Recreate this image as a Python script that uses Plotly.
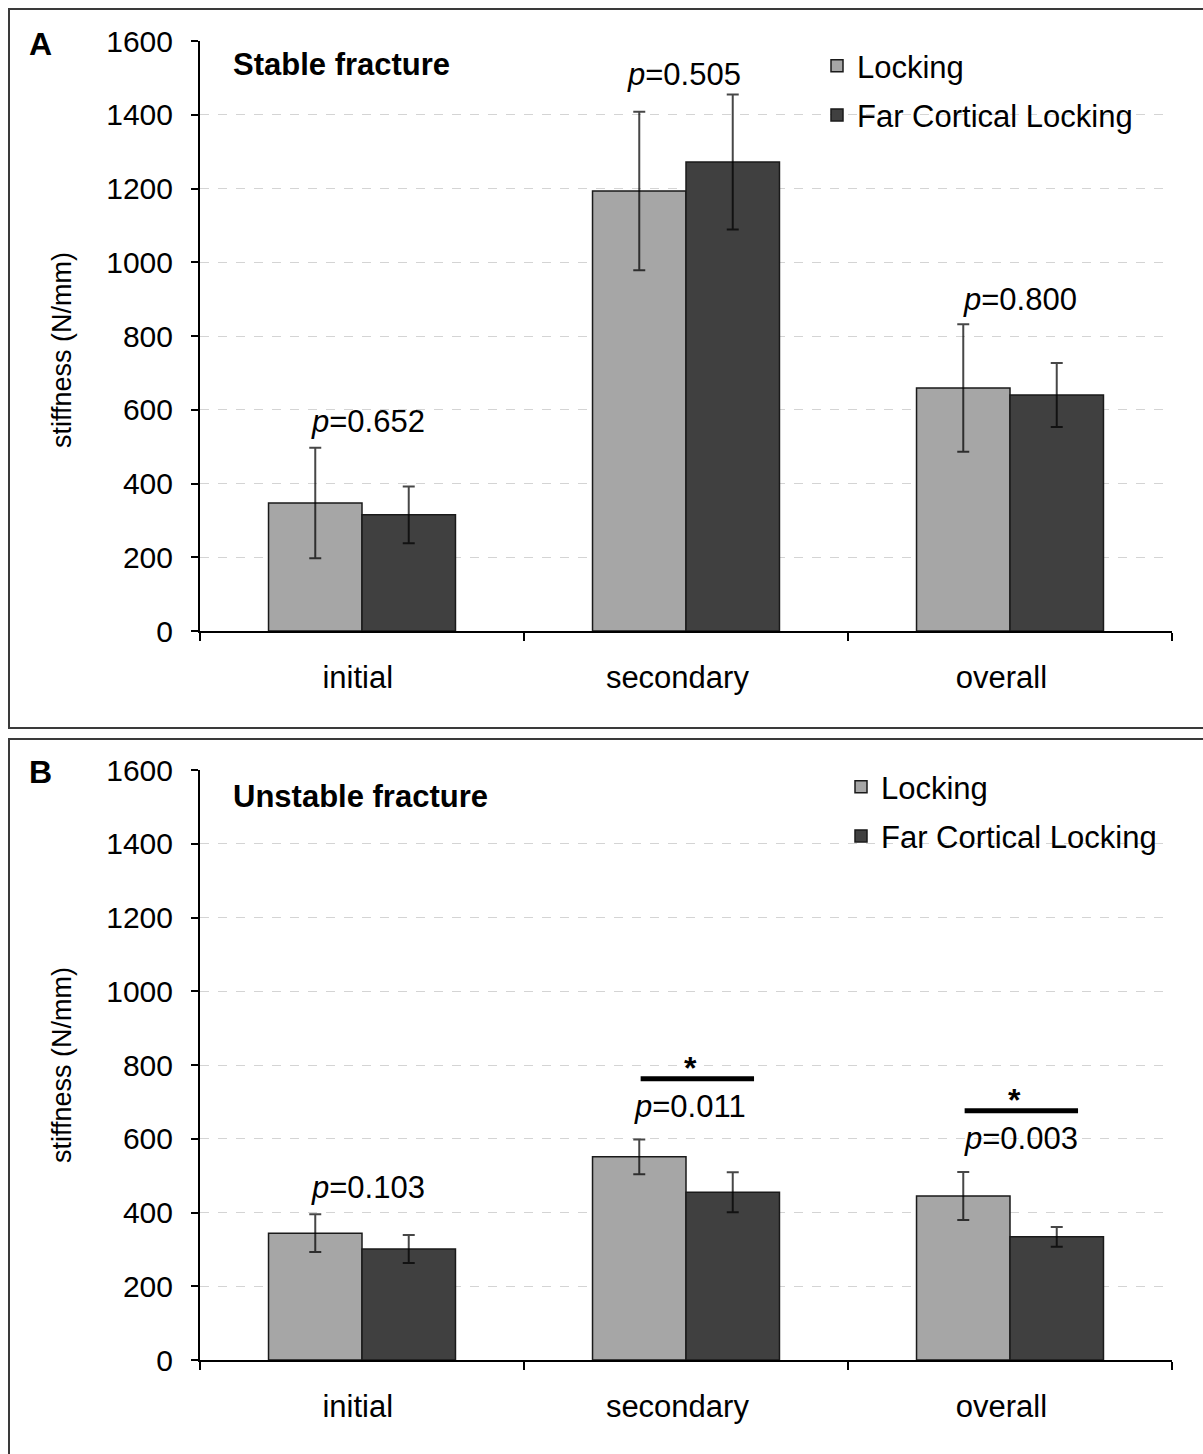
import plotly.graph_objects as go

categories = ["initial", "secondary", "overall"]
series_names = ["Locking", "Far Cortical Locking"]

# Panel A: stable fracture
a_locking = [347, 1193, 659]
a_locking_sd = [150, 215, 173]
a_fcl = [315, 1272, 640]
a_fcl_sd = [77, 183, 87]
a_pvalues = ["0.652", "0.505", "0.800"]

# Panel B: unstable fracture
b_locking = [344, 551, 445]
b_locking_sd = [51, 47, 65]
b_fcl = [301, 455, 334]
b_fcl_sd = [38, 54, 27]
b_pvalues = ["0.103", "0.011", "0.003"]
b_significant = [False, True, True]

y_ticks = [0, 200, 400, 600, 800, 1000, 1200, 1400, 1600]

W, H = 1203, 1454
FONT = "Liberation Sans, Arial, sans-serif"
C_LOCK = "#A6A6A6"
C_FCL = "#404040"


def px(x):
    return x / W


def py(y):
    return 1 - y / H


fig = go.Figure()

panels = [
    ("x", "y", "legend", a_locking, a_locking_sd, a_fcl, a_fcl_sd),
    ("x2", "y2", "legend2", b_locking, b_locking_sd, b_fcl, b_fcl_sd),
]
for xa, ya, lg, lock, lock_sd, fcl, fcl_sd in panels:
    for name, vals, sd, col, grp in [
        (series_names[0], lock, lock_sd, C_LOCK, "g1"),
        (series_names[1], fcl, fcl_sd, C_FCL, "g2"),
    ]:
        fig.add_trace(go.Bar(
            x=categories, y=vals, name=name,
            marker=dict(color=col, line=dict(color="#1a1a1a", width=1.5)),
            error_y=dict(type="data", array=sd, visible=True,
                         color="rgba(0,0,0,0.72)", thickness=2, width=6),
            xaxis=xa, yaxis=ya, legend=lg, legendgroup=grp + lg,
        ))

xdom = [px(200), px(1172)]
axis_common = dict(
    showline=True, linecolor="black", linewidth=2,
    ticks="outside", tickcolor="black", tickwidth=2, automargin=False,
)
yaxis_common = dict(
    range=[0, 1600], tickvals=y_ticks, ticklen=7,
    tickfont=dict(family=FONT, size=30, color="black"),
    showgrid=True, gridcolor="#D4D4D4", gridwidth=1, griddash="dash",
    zeroline=False, ticklabelstandoff=12, **axis_common,
)
pad_counts = [1, 2, 2]
cat_text = [c + "\u00a0" * n for c, n in zip(categories, pad_counts)]
xaxis_common = dict(
    tickson="boundaries", ticklen=8, showgrid=False,
    tickvals=categories, ticktext=cat_text,
    tickfont=dict(family=FONT, size=31, color="black"),
    ticklabelstandoff=18, **axis_common,
)

legend_font = dict(family=FONT, size=31, color="black")
fig.update_layout(
    width=W, height=H,
    margin=dict(l=0, r=0, t=0, b=0, pad=0, autoexpand=False),
    paper_bgcolor="white", plot_bgcolor="white",
    barmode="group", bargap=0.423, bargroupgap=0,
    font=dict(family=FONT, color="black"),
    xaxis=dict(domain=xdom, anchor="y", **xaxis_common),
    yaxis=dict(domain=[py(631), py(41)], anchor="x", **yaxis_common),
    xaxis2=dict(domain=xdom, anchor="y2", **xaxis_common),
    yaxis2=dict(domain=[py(1360), py(770)], anchor="x2", **yaxis_common),
    legend=dict(x=px(817), y=py(39), xanchor="left", yanchor="top",
                font=legend_font,
                bgcolor="rgba(0,0,0,0)", tracegroupgap=6, traceorder="grouped"),
    legend2=dict(x=px(841), y=py(760), xanchor="left", yanchor="top",
                 font=legend_font,
                 bgcolor="rgba(0,0,0,0)", tracegroupgap=6, traceorder="grouped"),
)

# panel frames
fig.add_shape(type="rect", xref="paper", yref="paper",
              x0=px(9), x1=px(1210), y0=py(728), y1=py(9),
              line=dict(color="#3a3a3a", width=2), layer="below")
fig.add_shape(type="rect", xref="paper", yref="paper",
              x0=px(9), x1=px(1210), y0=py(1470), y1=py(739),
              line=dict(color="#3a3a3a", width=2), layer="below")

ann = []
# panel letters and titles
ann.append(dict(text="<b>A</b>", x=px(27), y=py(44), xref="paper", yref="paper",
                xanchor="left", yanchor="middle", showarrow=False,
                font=dict(family=FONT, size=32, color="black")))
ann.append(dict(text="<b>B</b>", x=px(27), y=py(772), xref="paper", yref="paper",
                xanchor="left", yanchor="middle", showarrow=False,
                font=dict(family=FONT, size=32, color="black")))
ann.append(dict(text="<b>Stable fracture</b>", x=px(231), y=py(64), xref="paper", yref="paper",
                xanchor="left", yanchor="middle", showarrow=False,
                font=dict(family=FONT, size=31, color="black")))
ann.append(dict(text="<b>Unstable fracture</b>", x=px(231), y=py(796), xref="paper", yref="paper",
                xanchor="left", yanchor="middle", showarrow=False,
                font=dict(family=FONT, size=31, color="black")))
# y-axis titles
for yc in (py(350), py(1065)):
    ann.append(dict(text="stiffness (N/mm)", x=px(62), y=yc, xref="paper", yref="paper",
                    xanchor="center", yanchor="middle", textangle=-90, showarrow=False,
                    font=dict(family=FONT, size=27, color="black")))

pfont = dict(family=FONT, size=31, color="black")
# p-values panel A
a_offsets = [72, 55, 68]
a_dx = [0.02, -0.005, 0.03]
for i, p in enumerate(a_pvalues):
    top = max(a_locking[i] + a_locking_sd[i], a_fcl[i] + a_fcl_sd[i])
    ann.append(dict(text=f"<i>p</i>=" + p, x=i + a_dx[i], y=top + a_offsets[i], xref="x", yref="y",
                    xanchor="center", yanchor="middle", showarrow=False, font=pfont))

# p-values panel B with significance bars
b_offsets = [73, 89, 90]
b_dx = [0.02, 0.012, 0.035]
for i, p in enumerate(b_pvalues):
    top = max(b_locking[i] + b_locking_sd[i], b_fcl[i] + b_fcl_sd[i])
    ylab = top + b_offsets[i]
    ann.append(dict(text=f"<i>p</i>=" + p, x=i + b_dx[i], y=ylab, xref="x2", yref="y2",
                    xanchor="center", yanchor="middle", showarrow=False, font=pfont))
    if b_significant[i]:
        ybar = ylab + 76
        fig.add_shape(type="line", xref="x2", yref="y2",
                      x0=i - 0.14, x1=i + 0.21, y0=ybar, y1=ybar,
                      line=dict(color="black", width=5))
        ann.append(dict(text="<b>*</b>", x=i + 0.015, y=ybar + 30, xref="x2", yref="y2",
                        xanchor="center", yanchor="middle", showarrow=False,
                        font=dict(family=FONT, size=32, color="black")))

fig.update_layout(annotations=ann)
fig.write_html("out.html", config={"displayModeBar": False},
               post_script="document.body.style.margin='0';document.body.style.overflow='hidden';")
